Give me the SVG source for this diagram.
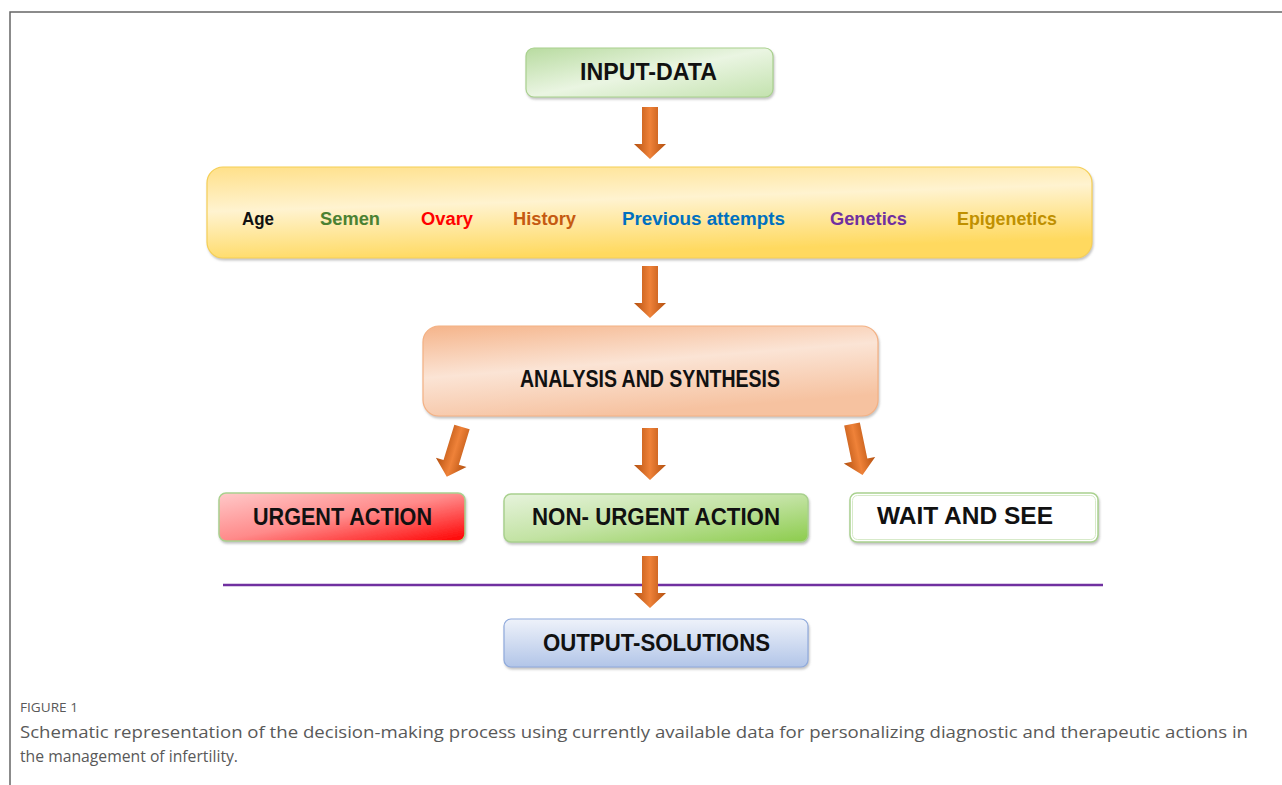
<svg xmlns="http://www.w3.org/2000/svg" width="1282" height="785" viewBox="0 0 1282 785">
<style>
.lbl{font-family:"Liberation Sans",Arial,sans-serif;font-weight:bold;fill:#111}
.big{font-size:23.5px}
.item{font-size:18px}
.cap{font-family:"Open Sans","Liberation Sans",sans-serif;fill:#595959}
.frame{stroke:#666;stroke-width:1.5;fill:none}
</style>
<defs>
<linearGradient id="gArrow" x1="0" y1="0" x2="1" y2="0">
<stop offset="0" stop-color="#b4500f"/>
<stop offset="0.5" stop-color="#ef8239"/>
<stop offset="1" stop-color="#b4500f"/>
</linearGradient>
<path id="arrow" d="M-8,0 H8 V37 H16 L0,52 L-16,37 H-8 Z" fill="url(#gArrow)"/>
<linearGradient id="gInput" x1="0" y1="0" x2="1" y2="1">
<stop offset="0" stop-color="#b8dba0"/>
<stop offset="0.5" stop-color="#eaf5e2"/>
<stop offset="1" stop-color="#c3e2ae"/>
</linearGradient>
<linearGradient id="gYellow" x1="0" y1="0" x2="0.3" y2="1">
<stop offset="0" stop-color="#ffe089"/>
<stop offset="0.45" stop-color="#fff3d0"/>
<stop offset="1" stop-color="#ffd95e"/>
</linearGradient>
<linearGradient id="gAnalysis" x1="0" y1="0" x2="0.4" y2="1">
<stop offset="0" stop-color="#f5b48a"/>
<stop offset="0.5" stop-color="#fbe4d5"/>
<stop offset="1" stop-color="#f6c2a0"/>
</linearGradient>
<linearGradient id="gUrgent" x1="0" y1="0" x2="1" y2="1">
<stop offset="0" stop-color="#ffc9c9"/>
<stop offset="0.5" stop-color="#ff8a8a"/>
<stop offset="1" stop-color="#ff0000"/>
</linearGradient>
<linearGradient id="gNon" x1="0" y1="0" x2="1" y2="1">
<stop offset="0" stop-color="#e6f3dc"/>
<stop offset="0.5" stop-color="#c3e3a4"/>
<stop offset="1" stop-color="#8ccc4c"/>
</linearGradient>
<linearGradient id="gOut" x1="0" y1="0" x2="0" y2="1">
<stop offset="0" stop-color="#eef2fa"/>
<stop offset="1" stop-color="#b2c5e8"/>
</linearGradient>
<filter id="sh" x="-5%" y="-10%" width="110%" height="130%">
<feDropShadow dx="1" dy="2" stdDeviation="1.2" flood-color="#888" flood-opacity="0.5"/>
</filter>
</defs>

<g id="frame">
<path class="frame" d="M10,785 V12 H1282"/>
</g>

<g id="connectors">
<use href="#arrow" transform="translate(650,107)"/>
<use href="#arrow" transform="translate(650,266)"/>
<use href="#arrow" transform="translate(462,427) rotate(17)"/>
<use href="#arrow" transform="translate(650,428)"/>
<use href="#arrow" transform="translate(852,424) rotate(-11.7)"/>
<line x1="223" y1="585" x2="1103" y2="585" stroke="#7030a0" stroke-width="2.5"/>
<use href="#arrow" transform="translate(650,556)"/>
</g>

<g id="input-data">
<rect x="526" y="48" width="247" height="49" rx="8" fill="url(#gInput)" stroke="#a9d18e" stroke-width="1.2" filter="url(#sh)"/>
<text class="lbl big" x="580" y="80" textLength="137" lengthAdjust="spacingAndGlyphs">INPUT-DATA</text>
</g>

<g id="factors">
<rect x="207" y="167" width="885" height="91" rx="16" fill="url(#gYellow)" stroke="#f5cf55" stroke-width="1.2" filter="url(#sh)"/>
<text class="lbl item" x="242" y="225" textLength="32" lengthAdjust="spacingAndGlyphs" fill="#000">Age</text>
<text class="lbl item" x="320" y="225" textLength="60" lengthAdjust="spacingAndGlyphs" style="fill:#4b8132">Semen</text>
<text class="lbl item" x="421" y="225" textLength="52" lengthAdjust="spacingAndGlyphs" style="fill:#ff0000">Ovary</text>
<text class="lbl item" x="513" y="225" textLength="63" lengthAdjust="spacingAndGlyphs" style="fill:#c55a11">History</text>
<text class="lbl item" x="622" y="225" textLength="163" lengthAdjust="spacingAndGlyphs" style="fill:#0070c0">Previous attempts</text>
<text class="lbl item" x="830" y="225" textLength="77" lengthAdjust="spacingAndGlyphs" style="fill:#7030a0">Genetics</text>
<text class="lbl item" x="957" y="225" textLength="100" lengthAdjust="spacingAndGlyphs" style="fill:#bf9000">Epigenetics</text>
</g>

<g id="analysis">
<rect x="423" y="326" width="455" height="90" rx="16" fill="url(#gAnalysis)" stroke="#f4b183" stroke-width="1.2" filter="url(#sh)"/>
<text class="lbl big" x="520" y="387" textLength="260" lengthAdjust="spacingAndGlyphs">ANALYSIS AND SYNTHESIS</text>
</g>

<g id="urgent">
<rect x="219" y="493" width="246" height="48" rx="7" fill="url(#gUrgent)" stroke="#a9d18e" stroke-width="1.5" filter="url(#sh)"/>
<text class="lbl big" x="253" y="525" textLength="179" lengthAdjust="spacingAndGlyphs">URGENT ACTION</text>
</g>

<g id="non-urgent">
<rect x="504" y="494" width="304" height="48" rx="7" fill="url(#gNon)" stroke="#a9d18e" stroke-width="1.5" filter="url(#sh)"/>
<text class="lbl big" x="532" y="525" textLength="248" lengthAdjust="spacingAndGlyphs">NON- URGENT ACTION</text>
</g>

<g id="wait">
<rect x="850" y="493" width="248" height="49" rx="7" fill="#fff" stroke="#a9d18e" stroke-width="1.5" filter="url(#sh)"/>
<rect x="852.5" y="495.5" width="243" height="44" rx="5" fill="none" stroke="#d7eac9" stroke-width="1"/>
<text class="lbl big" x="877" y="524" textLength="176" lengthAdjust="spacingAndGlyphs">WAIT AND SEE</text>
</g>

<g id="output">
<rect x="504" y="619" width="304" height="48" rx="7" fill="url(#gOut)" stroke="#8faadc" stroke-width="1.2" filter="url(#sh)"/>
<text class="lbl big" x="543" y="651" textLength="227" lengthAdjust="spacingAndGlyphs">OUTPUT-SOLUTIONS</text>
</g>

<g id="caption">
<text class="cap" x="20" y="712" font-size="12.5" textLength="58" lengthAdjust="spacingAndGlyphs">FIGURE 1</text>
<text class="cap" x="20" y="738" font-size="16" textLength="1228" lengthAdjust="spacingAndGlyphs">Schematic representation of the decision-making process using currently available data for personalizing diagnostic and therapeutic actions in</text>
<text class="cap" x="20" y="762" font-size="16" textLength="218" lengthAdjust="spacingAndGlyphs">the management of infertility.</text>
</g>
</svg>
